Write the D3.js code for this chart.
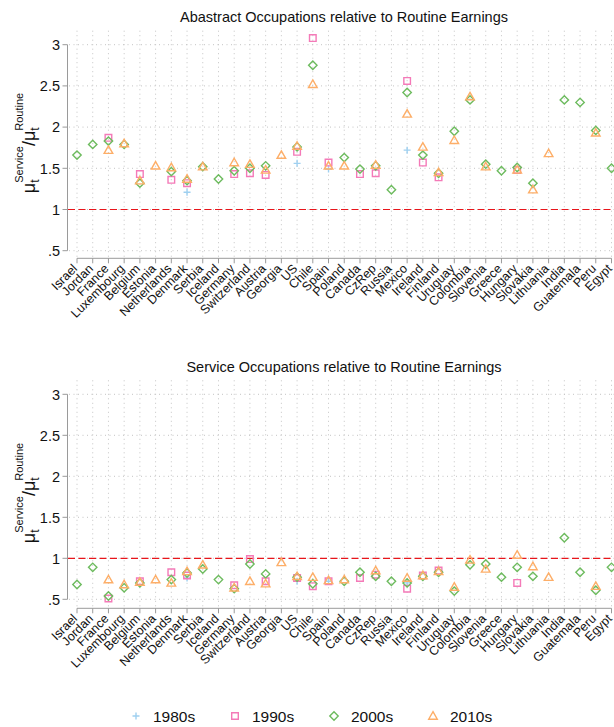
<!DOCTYPE html>
<html>
<head>
<meta charset="utf-8">
<script src="https://cdn.jsdelivr.net/npm/d3@7"></script>
<style>
  body { margin: 0; background: #fff; }
  svg { font-family: "Liberation Sans", Arial, sans-serif; }
</style>
</head>
<body>
<svg id="chart" width="614" height="727"></svg>
<script>
var countries = ["Israel","Jordan","France","Luxembourg","Belgium","Estonia","Netherlands","Denmark","Serbia","Iceland","Germany","Switzerland","Austria","Georgia","US","Chile","Spain","Poland","Canada","CzRep","Russia","Mexico","Ireland","Finland","Uruguay","Colombia","Slovenia","Greece","Hungary","Slovakia","Lithuania","India","Guatemala","Peru","Egypt"];
var yTicks = [0.5, 1, 1.5, 2, 2.5, 3];
var yTickLabels = [".5", "1", "1.5", "2", "2.5", "3"];
var decades = ["1980s", "1990s", "2000s", "2010s"];

// abstract / routine, one value per country (null = no data)
var abs1980 = [null,null,null,null,null,null,null,1.21,null,null,null,null,null,null,1.56,null,1.49,null,null,null,null,1.72,null,null,null,null,null,null,null,null,null,null,null,null,null];
var abs1990 = [null,null,1.87,null,1.43,null,1.36,1.32,null,null,1.43,1.44,1.42,null,1.70,3.08,1.57,null,1.43,1.44,null,2.56,1.57,1.39,null,null,null,null,1.48,null,null,null,null,null,null];
var abs2000 = [1.66,1.79,1.83,1.79,1.32,null,1.46,1.35,1.52,1.37,1.47,1.50,1.53,null,1.76,2.75,null,1.63,1.49,1.53,1.24,2.42,1.66,1.44,1.95,2.33,1.55,1.47,1.51,1.32,null,2.33,2.30,1.96,1.50];
var abs2010 = [null,null,1.72,1.80,1.35,1.53,1.51,1.37,1.52,null,1.57,1.55,1.48,1.66,1.77,2.52,1.53,1.53,null,1.54,null,2.16,1.76,1.45,1.84,2.37,1.52,null,1.48,1.24,1.68,null,null,1.93,null];

// service / routine
var svc1980 = [null,null,null,null,null,null,null,0.76,null,null,null,null,null,null,0.72,null,0.72,null,null,null,null,0.70,null,null,null,null,null,null,null,null,null,null,null,null,null];
var svc1990 = [null,null,0.51,null,0.72,null,0.83,0.79,null,null,0.67,0.99,0.72,null,0.76,0.66,0.72,null,0.76,0.80,null,0.63,0.79,0.85,null,null,null,null,0.70,null,null,null,null,null,null];
var svc2000 = [0.68,0.89,0.54,0.64,0.70,null,0.74,0.82,0.87,0.74,0.63,0.93,0.81,null,0.77,0.69,null,0.72,0.83,0.78,0.72,0.70,0.78,0.83,0.60,0.92,0.93,0.77,0.89,0.78,null,1.25,0.83,0.61,0.89];
var svc2010 = [null,null,0.74,0.68,0.71,0.74,0.70,0.84,0.92,null,0.64,0.72,0.69,0.95,0.78,0.77,0.73,0.74,null,0.85,null,0.76,0.79,0.84,0.65,0.98,0.87,null,1.04,0.90,0.77,null,null,0.66,null];

var colors = ["#9fd0f0", "#f47ab8", "#6dbb5e", "#fdae68"];

var svg = d3.select("#chart");

// hollow marker paths centred on 0,0
function markerPath(k) {
  if (k === 0) return "M-3.5,0H3.5M0,-3.5V3.5";
  if (k === 1) return "M-3.3,-3.3H3.3V3.3H-3.3Z";
  if (k === 2) return "M0,-4.2L4.2,0L0,4.2L-4.2,0Z";
  return "M0,-4.3L4.3,3.2H-4.3Z";
}

function panel(opts) {
  var g = svg.append("g");
  var x = d3.scalePoint().domain(countries).range([77, 611.5]);
  var y = d3.scaleLinear().domain([0.5, 3]).range([opts.y05, opts.y3]);

  // grid
  g.selectAll(".vg").data(countries).enter().append("line")
    .attr("x1", d => x(d)).attr("x2", d => x(d))
    .attr("y1", opts.y3 - 14).attr("y2", opts.axisY)
    .attr("stroke", "#c4c4c4").attr("stroke-dasharray", "1,3.5");
  g.selectAll(".hg").data(yTicks).enter().append("line")
    .attr("x1", 69).attr("x2", 614)
    .attr("y1", d => y(d)).attr("y2", d => y(d))
    .attr("stroke", "#c4c4c4").attr("stroke-dasharray", "1,3.5");

  // reference line at 1
  g.append("line")
    .attr("x1", 68).attr("x2", 614)
    .attr("y1", y(1)).attr("y2", y(1))
    .attr("stroke", "#e8151b").attr("stroke-width", 1.2)
    .attr("stroke-dasharray", "7,3.5");

  // y axis
  g.append("line").attr("x1", 67.5).attr("x2", 67.5)
    .attr("y1", y(3)).attr("y2", y(0.5))
    .attr("stroke", "#9a9a9a");
  g.selectAll(".yt").data(yTicks).enter().append("line")
    .attr("x1", 62.5).attr("x2", 67.5)
    .attr("y1", d => y(d)).attr("y2", d => y(d))
    .attr("stroke", "#9a9a9a");
  g.selectAll(".yl").data(yTicks).enter().append("text")
    .attr("x", 60).attr("y", d => y(d)).attr("dy", "0.36em")
    .attr("text-anchor", "end").attr("font-size", 14.5).attr("fill", "#111")
    .text((d, i) => yTickLabels[i]);

  // x axis
  g.append("line").attr("x1", x(countries[0])).attr("x2", x(countries[countries.length - 1]))
    .attr("y1", opts.axisY).attr("y2", opts.axisY)
    .attr("stroke", "#9a9a9a");
  g.selectAll(".xt").data(countries).enter().append("line")
    .attr("x1", d => x(d)).attr("x2", d => x(d))
    .attr("y1", opts.axisY).attr("y2", opts.axisY + 5)
    .attr("stroke", "#9a9a9a");
  g.selectAll(".xl").data(countries).enter().append("text")
    .attr("transform", d => "translate(" + (x(d) - 2) + "," + (opts.axisY + 8) + ") rotate(-45)")
    .attr("text-anchor", "end").attr("dy", "0.35em")
    .attr("font-size", 12.5).attr("fill", "#111")
    .text(d => d);

  // title
  g.append("text").attr("x", 344).attr("y", opts.titleY)
    .attr("text-anchor", "middle").attr("font-size", 14.5).attr("fill", "#111")
    .text(opts.title);

  // y label: mu_t^Service / mu_t^Routine
  var lab = g.append("g").attr("transform", "translate(35," + opts.labelMid + ") rotate(-90)");
  var parts = [
    {t: "\u03bc", s: 18, dy: 0, adv: true},
    {t: "t", s: 12, dy: 4, adv: false},
    {t: "Service", s: 11, dy: -12, adv: true},
    {t: "/\u03bc", s: 18, dy: 0, adv: true},
    {t: "t", s: 12, dy: 4, adv: false},
    {t: "Routine", s: 11, dy: -12, adv: true}
  ];
  var cx = 0, items = [];
  parts.forEach(function(p) {
    var tx = lab.append("text").attr("x", cx).attr("y", p.dy)
      .attr("font-size", p.s).attr("fill", "#111").text(p.t);
    var w = tx.node().getComputedTextLength();
    items.push(tx);
    if (p.adv) cx += w;
  });
  items.forEach(function(tx) { tx.attr("x", +tx.attr("x") - cx / 2); });

  // markers
  opts.series.forEach(function(vals, k) {
    g.selectAll(".m" + k).data(vals.map((v, i) => ({c: countries[i], v: v})).filter(d => d.v != null))
      .enter().append("path")
      .attr("transform", d => "translate(" + x(d.c) + "," + y(d.v) + ")")
      .attr("d", markerPath(k))
      .attr("fill", "none").attr("stroke", colors[k]).attr("stroke-width", 1.4);
  });
}

panel({title: "Abastract Occupations relative to Routine Earnings", titleY: 22,
  y3: 44.7, y05: 250.7, axisY: 258.3, labelMid: 143,
  series: [abs1980, abs1990, abs2000, abs2010]});
panel({title: "Service Occupations relative to Routine Earnings", titleY: 372,
  y3: 394.3, y05: 599.3, axisY: 608.3, labelMid: 493,
  series: [svc1980, svc1990, svc2000, svc2010]});

// legend
var legX = [136, 235, 334, 433];
var leg = svg.append("g");
decades.forEach(function(d, k) {
  leg.append("path").attr("transform", "translate(" + legX[k] + ",716)")
    .attr("d", markerPath(k)).attr("fill", "none")
    .attr("stroke", colors[k]).attr("stroke-width", 1.4);
  leg.append("text").attr("x", legX[k] + 17).attr("y", 716).attr("dy", "0.36em")
    .attr("font-size", 15.5).attr("fill", "#111").text(d);
});
</script>
</body>
</html>
